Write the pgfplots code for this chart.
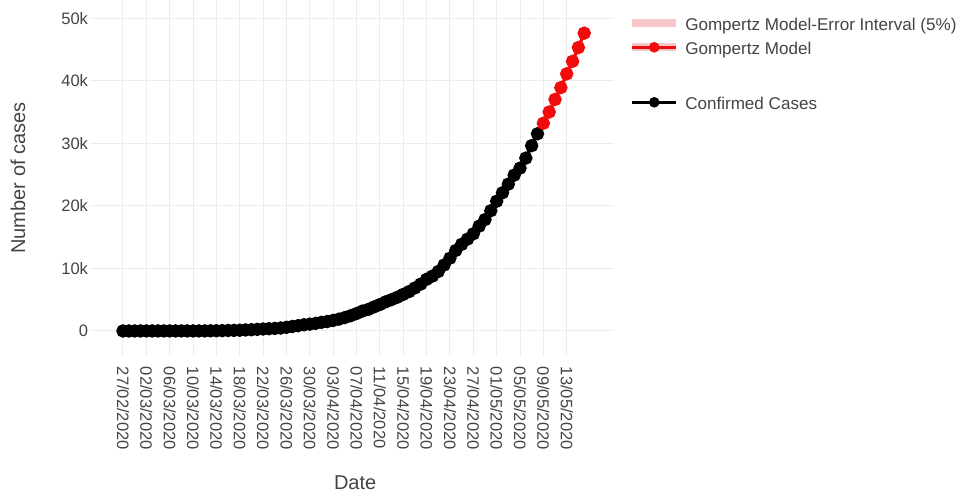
\documentclass[border=0pt]{standalone}
\usepackage{pgfplots}
\usepackage{pgfplotstable}
\pgfplotsset{compat=1.18}
\usepackage{fontspec}
\setmainfont{Liberation Sans}
\definecolor{txt}{RGB}{68,68,68}
\definecolor{gridc}{RGB}{236,236,240}
\definecolor{pinkband}{RGB}{246,200,202}
\definecolor{redm}{RGB}{240,12,12}

\pgfplotstableread{
d v
0 0
1 1
2 4
3 4
4 5
5 5
6 5
7 5
8 6
9 6
10 7
11 7
12 7
13 8
14 12
15 26
16 41
17 53
18 82
19 93
20 118
21 164
22 203
23 251
24 316
25 367
26 405
27 475
28 585
29 717
30 848
31 993
32 1094
33 1215
34 1378
35 1510
36 1688
37 1890
38 2143
39 2439
40 2785
41 3181
42 3441
43 3844
44 4219
45 4661
46 5014
47 5399
48 5847
49 6297
50 6875
51 7497
52 8261
53 8772
54 9501
55 10544
56 11633
57 12872
58 13842
59 14677
60 15529
61 16752
62 17799
63 19224
64 20739
65 22088
66 23471
67 24905
68 26025
69 27634
70 29616
71 31522
}\confirmed

\pgfplotstableread{
d v
72 33200
73 35000
74 37000
75 38900
76 41100
77 43100
78 45300
79 47600
}\gompertz

\begin{document}
\begin{tikzpicture}
\useasboundingbox (-67.5pt,-105pt) rectangle (656.25pt,267pt);
\begin{axis}[
  at={(0,0)}, anchor=south west,
  scale only axis, width=393pt, height=267pt,
  xmin=-5.65, xmax=84.1, ymin=-4000, ymax=52900,
  axis line style={draw=none},
  major tick length=0pt,
  grid=major, grid style={gridc, line width=0.75pt},
  xtick={0,4,...,76},
  xticklabels={27/02/2020,02/03/2020,06/03/2020,10/03/2020,14/03/2020,18/03/2020,22/03/2020,26/03/2020,30/03/2020,03/04/2020,07/04/2020,11/04/2020,15/04/2020,19/04/2020,23/04/2020,27/04/2020,01/05/2020,05/05/2020,09/05/2020,13/05/2020},
  ytick={0,10000,20000,30000,40000,50000},
  yticklabels={0,10k,20k,30k,40k,50k},
  scaled y ticks=false,
  tick label style={font=\fontsize{12.4}{14}\selectfont, text=txt},
  xticklabel style={rotate=-90, anchor=west, inner sep=0pt},
  xticklabel shift=8pt,
  yticklabel style={anchor=east, inner sep=0pt},
  yticklabel shift=1.3pt,
  xlabel={Date}, ylabel={Number of cases},
  label style={font=\fontsize{15}{17}\selectfont, text=txt},
  xlabel style={at={(axis description cs:0.506,-0.357)}, anchor=center},
  ylabel style={at={(axis description cs:-0.1374,0.50)}, anchor=center},
  legend style={at={(axis description cs:1.0267,0.9620)}, anchor=north west,
    draw=none, fill=none, font=\fontsize{12.8}{14}\selectfont, text=txt,
    inner sep=0pt, row sep=3.75pt, column sep=3.75pt,
    nodes={inner sep=0pt}},
  legend cell align=left,
]
\addplot[black, line width=2.5pt, mark=*, mark size=3.75pt, forget plot] table[x=d,y=v] {\confirmed};
\addplot[redm, line width=2.5pt, mark=*, mark size=3.75pt, forget plot] table[x=d,y=v] {\gompertz};

\addlegendimage{legend image code/.code={\draw[pinkband, line width=6pt] (0pt,0pt) -- (33pt,0pt);}}
\addlegendentry{\rule[-6pt]{0pt}{18.75pt}Gompertz Model-Error Interval (5\%)}
\addlegendimage{legend image code/.code={\draw[pinkband, line width=6pt] (0pt,0pt) -- (33pt,0pt);\draw[redm, line width=2.5pt] (0pt,0pt) -- (33pt,0pt);\fill[redm] (16.5pt,0pt) circle (3.75pt);}}
\addlegendentry{\rule[-6pt]{0pt}{18.75pt}Gompertz Model}
\addlegendimage{empty legend}
\addlegendentry{\rule{0pt}{18pt}}
\addlegendimage{legend image code/.code={\draw[black, line width=2.5pt] (0pt,0pt) -- (33pt,0pt);\fill[black] (16.5pt,0pt) circle (3.75pt);}}
\addlegendentry{\rule[-6pt]{0pt}{18.75pt}Confirmed Cases}
\end{axis}
\end{tikzpicture}
\end{document}
